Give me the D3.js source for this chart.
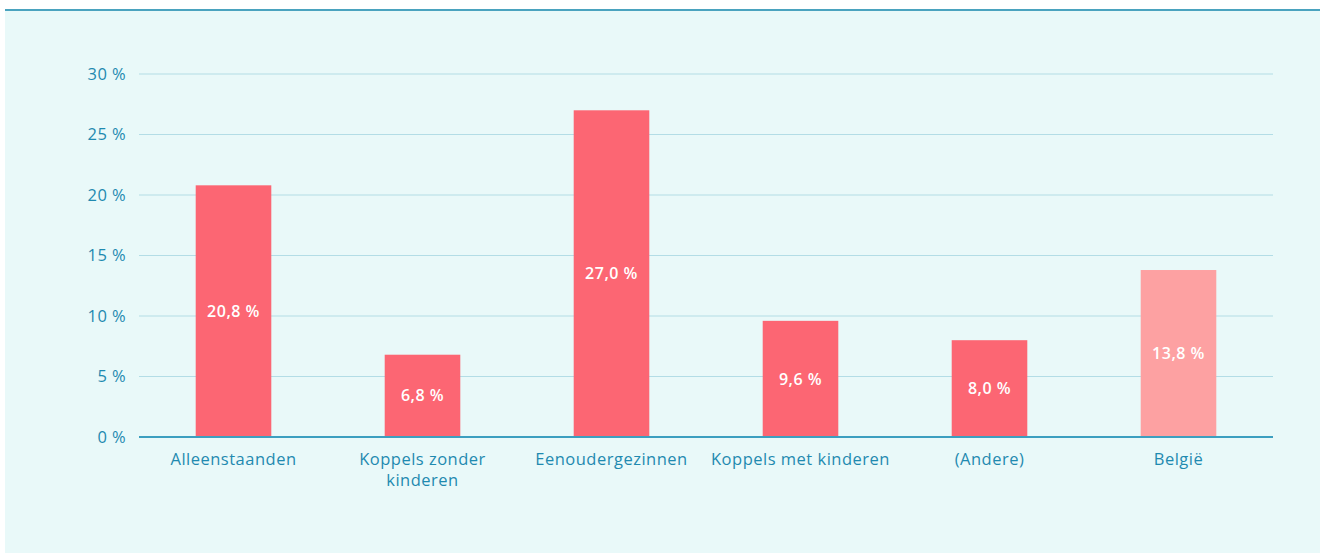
<!DOCTYPE html>
<html>
<head>
<meta charset="utf-8">
<script src="https://cdn.jsdelivr.net/npm/d3@7"></script>
<style>
    body { margin: 0; background: #ffffff; }
    svg { display: block; font-family: "Open Sans", sans-serif; }
</style>
</head>
<body>
<svg id="chart" width="1320" height="553"></svg>
<script>
"use strict";

const categories = [["Alleenstaanden"], ["Koppels zonder", "kinderen"], ["Eenoudergezinnen"],
    ["Koppels met kinderen"], ["(Andere)"], ["België"]];
const values = [20.8, 6.8, 27.0, 9.6, 8.0, 13.8];
const highlight = [false, false, false, false, false, true];
const yTicks = [0, 5, 10, 15, 20, 25, 30];

const svg = d3.select("#chart");
const W = 1320, H = 553;
const margin = {left: 139, right: 47, top: 74, bottom: 116};

// panel background + top rule
svg.append("rect").attr("x", 5).attr("y", 10).attr("width", W - 5).attr("height", H - 10)
    .attr("fill", "#e9f9f9");
svg.append("rect").attr("x", 5).attr("y", 9).attr("width", W - 5).attr("height", 2)
    .attr("fill", "#4aa3bf");

const x = d3.scaleBand()
    .domain(d3.range(values.length))
    .range([margin.left, W - margin.right])
    .paddingInner(0.6)
    .paddingOuter(0.3);

const y = d3.scaleLinear()
    .domain([0, 30])
    .range([H - margin.bottom, margin.top]);

const pct = v => d3.format(".1f")(v).replace(".", ",") + "\u00a0%";

// grid
svg.append("g").selectAll("line").data(yTicks.slice(1)).join("line")
    .attr("x1", margin.left).attr("x2", W - margin.right)
    .attr("y1", d => y(d)).attr("y2", d => y(d))
    .attr("stroke", "#b3dde6").attr("stroke-width", 1.2);

// y labels
svg.append("g").selectAll("text").data(yTicks).join("text")
    .attr("x", 126).attr("y", d => y(d)).attr("dy", "0.35em")
    .attr("text-anchor", "end")
    .attr("fill", "#1f8ab0").attr("font-size", 16.5).attr("letter-spacing", 0.4)
    .text(d => d + "\u00a0%");

// bars
svg.append("g").selectAll("rect").data(values).join("rect")
    .attr("x", (d, i) => x(i)).attr("width", x.bandwidth())
    .attr("y", d => y(d)).attr("height", d => y(0) - y(d))
    .attr("fill", (d, i) => highlight[i] ? "#fda1a2" : "#fc6673");

// value labels
svg.append("g").selectAll("text").data(values).join("text")
    .attr("x", (d, i) => x(i) + x.bandwidth() / 2)
    .attr("y", d => (y(d) + y(0)) / 2).attr("dy", "0.35em")
    .attr("text-anchor", "middle")
    .attr("fill", "#ffffff").attr("font-size", 16).attr("font-weight", 600)
    .attr("letter-spacing", 0.5)
    .text(d => pct(d));

// x axis line
svg.append("line")
    .attr("x1", margin.left).attr("x2", W - margin.right)
    .attr("y1", y(0)).attr("y2", y(0))
    .attr("stroke", "#3c9fc0").attr("stroke-width", 2);

// category labels
const cat = svg.append("g").selectAll("text").data(categories).join("text")
    .attr("x", (d, i) => x(i) + x.bandwidth() / 2)
    .attr("y", y(0) + 28)
    .attr("text-anchor", "middle")
    .attr("fill", "#1f8ab0").attr("font-size", 16.5).attr("letter-spacing", 0.5);
cat.selectAll("tspan").data(d => d).join("tspan")
    .attr("x", function () { return d3.select(this.parentNode).attr("x"); })
    .attr("dy", (d, i) => i === 0 ? 0 : 21)
    .text(d => d);
</script>
</body>
</html>
